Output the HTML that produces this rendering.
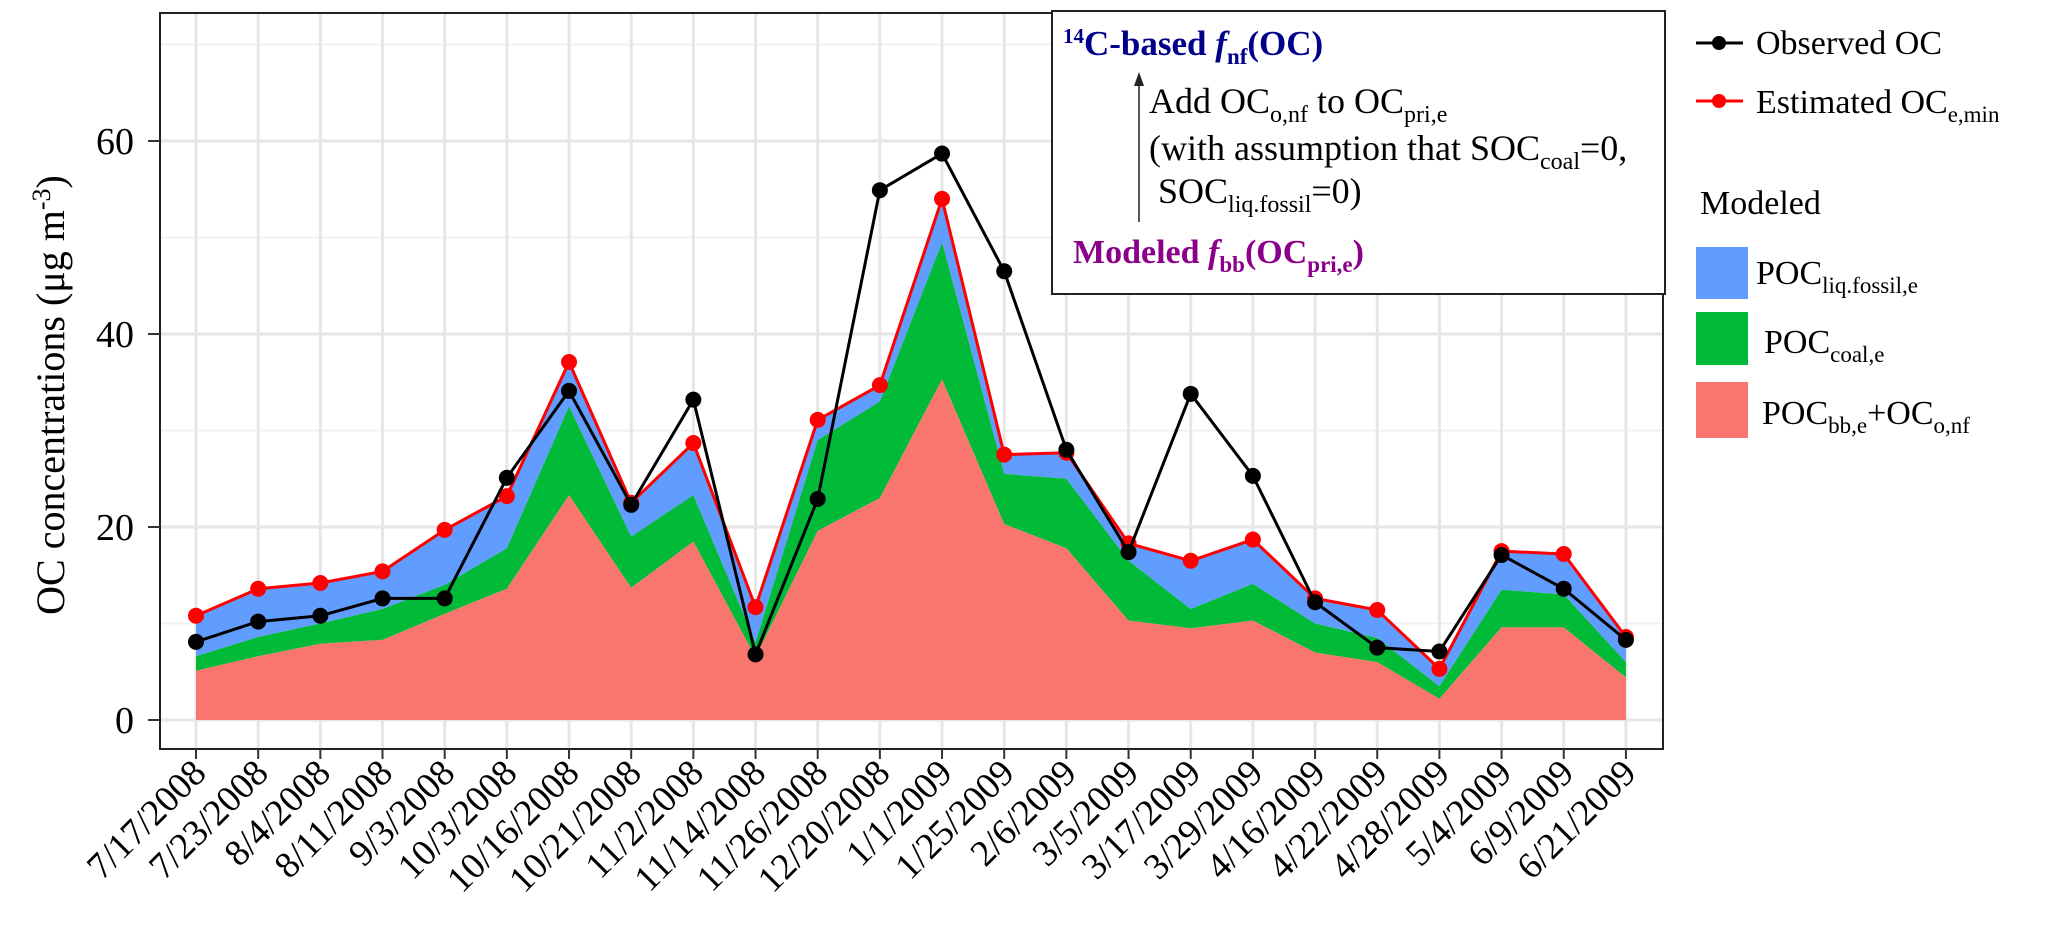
<!DOCTYPE html>
<html><head><meta charset="utf-8"><style>
html,body{margin:0;padding:0;background:#fff;}
svg{display:block;font-family:"Liberation Serif",serif;}
</style></head><body>
<svg id="chart" width="2067" height="936" viewBox="0 0 2067 936" xmlns="http://www.w3.org/2000/svg">
<g id="grid"></g>
<g id="areas"></g>
<g id="lines"></g>
<rect x="160" y="13" width="1503" height="736" fill="none" stroke="#222" stroke-width="2"/>
<g id="axes"></g>
<text transform="translate(64,395) rotate(-90)" text-anchor="middle" font-size="40">OC concentrations (μg m<tspan dy="-14" font-size="26">-3</tspan><tspan dy="14">)</tspan></text>

<g>
<rect x="1052" y="11" width="613" height="283" fill="#fff" stroke="#222" stroke-width="2"/>
<text x="1063" y="55" font-size="35" font-weight="bold" fill="#00008b"><tspan dy="-12" font-size="21">14</tspan><tspan dy="12">C-based </tspan><tspan font-style="italic">f</tspan><tspan dy="9" font-size="23">nf</tspan><tspan dy="-9">(OC)</tspan></text>
<line x1="1139" y1="222" x2="1139" y2="82" stroke="#222" stroke-width="1.5"/>
<polygon points="1139,72 1134,86 1144,86" fill="#222"/>
<text x="1149" y="113" font-size="36">Add OC<tspan dy="9" font-size="24">o,nf</tspan><tspan dy="-9"> to OC</tspan><tspan dy="9" font-size="24">pri,e</tspan></text>
<text x="1149" y="160" font-size="36">(with assumption that SOC<tspan dy="9" font-size="24">coal</tspan><tspan dy="-9">=0,</tspan></text>
<text x="1158" y="203" font-size="36">SOC<tspan dy="9" font-size="24">liq.fossil</tspan><tspan dy="-9">=0)</tspan></text>
<text x="1073" y="263" font-size="34" font-weight="bold" fill="#8b008b">Modeled <tspan font-style="italic">f</tspan><tspan dy="9" font-size="23">bb</tspan><tspan dy="-9">(OC</tspan><tspan dy="9" font-size="23">pri,e</tspan><tspan dy="-9">)</tspan></text>
</g>

<g font-size="34">
<g>
<line x1="1696" y1="43" x2="1743" y2="43" stroke="#000" stroke-width="3"/><circle cx="1719" cy="43" r="7" fill="#000"/>
<text x="1756" y="54">Observed OC</text></g>
<g>
<line x1="1696" y1="101" x2="1743" y2="101" stroke="#f00" stroke-width="3"/><circle cx="1719" cy="101" r="7" fill="#f00"/>
<text x="1756" y="113">Estimated OC<tspan dy="9" font-size="23">e,min</tspan></text></g>
<text x="1700" y="214">Modeled</text>
<g><rect x="1696" y="247" width="52" height="52" fill="#619cff"/>
<text x="1756" y="284">POC<tspan dy="9" font-size="23">liq.fossil,e</tspan></text></g>
<g><rect x="1696" y="312" width="52" height="53" fill="#00ba38"/>
<text x="1764" y="353">POC<tspan dy="9" font-size="23">coal,e</tspan></text></g>
<g><rect x="1696" y="382" width="52" height="56" fill="#f8766d"/>
<text x="1762" y="424">POC<tspan dy="9" font-size="23">bb,e</tspan><tspan dy="-9">+OC</tspan><tspan dy="9" font-size="23">o,nf</tspan></text></g>
</g>
</svg>
<script>
const categories = ["7/17/2008","7/23/2008","8/4/2008","8/11/2008","9/3/2008","10/3/2008","10/16/2008","10/21/2008","11/2/2008","11/14/2008","11/26/2008","12/20/2008","1/1/2009","1/25/2009","2/6/2009","3/5/2009","3/17/2009","3/29/2009","4/16/2009","4/22/2009","4/28/2009","5/4/2009","6/9/2009","6/21/2009"];
const observedOC = [8.1,10.2,10.8,12.6,12.6,25.1,34.1,22.3,33.2,6.8,22.9,54.9,58.7,46.5,28.0,17.4,33.8,25.3,12.2,7.5,7.1,17.1,13.6,8.3];
const estimatedOC = [10.8,13.6,14.2,15.4,19.7,23.2,37.1,22.5,28.7,11.7,31.1,34.7,54.0,27.5,27.7,18.3,16.5,18.7,12.6,11.4,5.3,17.5,17.2,8.6];
const pocBB = [5.1,6.6,7.9,8.3,11.0,13.6,23.3,13.7,18.5,6.5,19.6,23.0,35.3,20.3,17.8,10.3,9.5,10.3,7.0,6.0,2.2,9.6,9.6,4.4];
const pocCoal = [1.5,2.0,2.1,3.2,3.0,4.2,9.2,5.3,4.8,1.5,9.4,10.0,14.2,5.2,7.2,6.2,2.0,3.8,3.0,2.5,1.3,3.9,3.4,1.6];
const pocLiq = [4.2,5.0,4.2,3.9,5.7,5.4,4.6,3.5,5.4,3.7,2.1,1.7,4.5,2.0,2.7,1.8,5.0,4.6,2.6,2.9,1.8,4.0,4.2,2.6];
const yTicks = [0,20,40,60];
const yMinor = [10,30,50,70];

const NS="http://www.w3.org/2000/svg";
const X0=196, XSTEP=62.17, Y0=720, YPER=9.65, L=160, R=1663, T=13, B=749;
const xs=i=>X0+i*XSTEP, ys=v=>Y0-v*YPER;
function mk(tag,attrs,parent){const e=document.createElementNS(NS,tag);for(const k in attrs)e.setAttribute(k,attrs[k]);parent.appendChild(e);return e;}
const grid=document.getElementById('grid'),areas=document.getElementById('areas'),lines=document.getElementById('lines'),axes=document.getElementById('axes');
yMinor.forEach(v=>{const l=mk('line',{x1:L,x2:R,y1:ys(v),y2:ys(v),stroke:'#f0f0f0','stroke-width':2},grid);

});
yTicks.forEach(v=>{const l=mk('line',{x1:L,x2:R,y1:ys(v),y2:ys(v),stroke:'#e6e6e6','stroke-width':3},grid);


const t=mk('line',{x1:148,x2:L,y1:ys(v),y2:ys(v),stroke:'#333','stroke-width':2},axes);


const tx=mk('text',{x:134,y:ys(v)+13,'text-anchor':'end','font-size':38},axes);tx.textContent=v;

});
categories.forEach((c,i)=>{const l=mk('line',{x1:xs(i),x2:xs(i),y1:T,y2:B,stroke:'#e6e6e6','stroke-width':3},grid);


const t=mk('line',{x1:xs(i),x2:xs(i),y1:B,y2:B+10,stroke:'#333','stroke-width':2},axes);


const tx=mk('text',{'text-anchor':'end','font-size':37,transform:`translate(${xs(i)+12},${B+26}) rotate(-45)`},axes);tx.textContent=c;

});
function area(lo,hi,color,name){let d='';hi.forEach((v,i)=>d+=(i?'L':'M')+xs(i)+','+ys(v));for(let i=lo.length-1;i>=0;i--)d+='L'+xs(i)+','+ys(lo[i]);d+='Z';
const p=mk('path',{d:d,fill:color},areas);

}
const zero=pocBB.map(()=>0), s1=pocBB.slice(), s2=pocBB.map((v,i)=>v+pocCoal[i]), s3=s2.map((v,i)=>v+pocLiq[i]);
area(s2,s3,'#619cff','area-liq-fossil');
area(s1,s2,'#00ba38','area-coal');
area(zero,s1,'#f8766d','area-bb');
function series(vals,color,name){const pts=vals.map((v,i)=>xs(i)+','+ys(v)).join(' ');
const pl=mk('polyline',{points:pts,fill:'none',stroke:color,'stroke-width':3,'stroke-linejoin':'round'},lines);


vals.forEach((v,i)=>{const c=mk('circle',{cx:xs(i),cy:ys(v),r:8,fill:color},lines);

});}
series(estimatedOC,'#f00','estimated-oc');
series(observedOC,'#000','observed-oc');
</script>
</body></html>
